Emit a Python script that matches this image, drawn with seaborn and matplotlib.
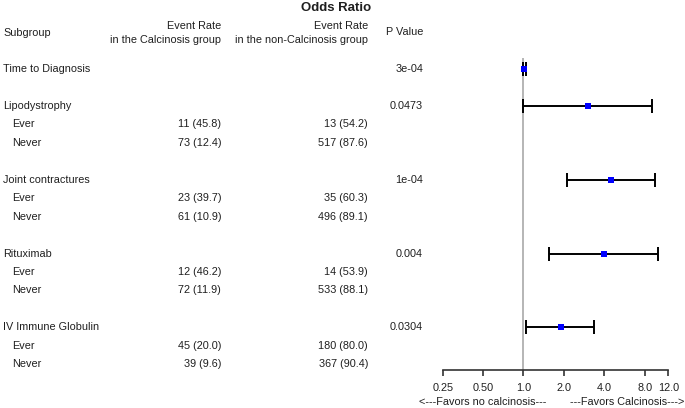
import matplotlib
matplotlib.use("Agg")
import matplotlib.pyplot as plt
import matplotlib.transforms as mtransforms
import numpy as np
import pandas as pd
import seaborn as sns

# forest plot data
groups = ["Time to Diagnosis", "Lipodystrophy", "Joint contractures", "Rituximab", "IV Immune Globulin"]
p_values = ["3e-04", "0.0473", "1e-04", "0.004", "0.0304"]
odds_ratio = [1.01, 3.05, 4.5, 3.95, 1.89]
ci_low = [1.0, 1.0, 2.11, 1.54, 1.05]
ci_high = [1.04, 9.1, 9.6, 10.1, 3.35]
levels = ["Ever", "Never"]
calc_ever = ["", "11 (45.8)", "23 (39.7)", "12 (46.2)", "45 (20.0)"]
calc_never = ["", "73 (12.4)", "61 (10.9)", "72 (11.9)", "39 (9.6)"]
noncalc_ever = ["", "13 (54.2)", "35 (60.3)", "14 (53.9)", "180 (80.0)"]
noncalc_never = ["", "517 (87.6)", "496 (89.1)", "533 (88.1)", "367 (90.4)"]
tick_values = [0.25, 0.5, 1.0, 2.0, 4.0, 8.0, 12.0]
tick_labels = ["0.25", "0.50", "1.0", "2.0", "4.0", "8.0", "12.0"]

W, H = 685, 408
FS = 7.8
TXT = "#1f1f1f"

sns.set_theme(style="white")
plt.rcParams["font.family"] = ["Liberation Sans", "DejaVu Sans"]

# row index of each group (Time to Diagnosis has no sub rows)
group_row = [0] + [2 + 4 * (i - 1) for i in range(1, len(groups))]

df = pd.DataFrame({"group": groups, "row": group_row, "OR": odds_ratio,
                   "lo": ci_low, "hi": ci_high, "p": p_values})

fig = plt.figure(figsize=(W / 100, H / 100), dpi=100)
ax_top, ax_bot = 58, 370
ax_left, ax_right = 442.7, 668.3
ax = fig.add_axes([ax_left / W, 1 - ax_bot / H, (ax_right - ax_left) / W, (ax_bot - ax_top) / H])

row_h = 18.45
ax.set_xscale("log")
ax.set_xlim(0.25, 12)
ax.set_ylim(16 + (ax_bot - 364.2) / row_h, -(69 - ax_top) / row_h)

# reference line at OR = 1
ax.axvline(1.0, color="#b0b0b0", lw=1.3, zorder=1)

# confidence intervals
ax.errorbar(df["OR"], df["row"], xerr=[df["OR"] - df["lo"], df["hi"] - df["OR"]],
            fmt="none", ecolor="black", elinewidth=1.4, capsize=5, capthick=1.4, zorder=2)
sns.scatterplot(data=df, x="OR", y="row", marker="s", color="blue", s=16,
                linewidth=0, ax=ax, zorder=3, legend=False)

ax.set_xticks(tick_values)
ax.set_xticklabels(tick_labels)
ax.xaxis.set_minor_locator(matplotlib.ticker.NullLocator())
ax.set_yticks([])
ax.set_xlabel("")
ax.set_ylabel("")
for s in ["top", "left", "right"]:
    ax.spines[s].set_visible(False)
ax.spines["bottom"].set_color("#333333")
ax.spines["bottom"].set_linewidth(1.2)
ax.tick_params(axis="x", bottom=True, direction="out", length=4.5, width=1.2,
               color="#333333", labelsize=FS, labelcolor=TXT, pad=5)

# text columns: x in figure pixels, y in data rows
tr = mtransforms.blended_transform_factory(fig.transFigure, ax.transData)
col_name, col_level, col_calc, col_non, col_p = 3, 12, 221, 368, 423

for i, g in enumerate(groups):
    r = group_row[i]
    fig.text(col_name / W, r, g, transform=tr, ha="left", va="center", fontsize=FS, color=TXT)
    fig.text(col_p / W, r, p_values[i], transform=tr, ha="right", va="center", fontsize=FS, color=TXT)
    if i == 0:
        continue
    for k, (lv, ce, ne) in enumerate(zip(levels, [calc_ever[i], calc_never[i]],
                                         [noncalc_ever[i], noncalc_never[i]])):
        rr = r + 1 + k
        fig.text(col_level / W, rr, lv, transform=tr, ha="left", va="center", fontsize=FS, color=TXT)
        fig.text(col_calc / W, rr, ce, transform=tr, ha="right", va="center", fontsize=FS, color=TXT)
        fig.text(col_non / W, rr, ne, transform=tr, ha="right", va="center", fontsize=FS, color=TXT)

# headers
fig.text(336 / W, 1 - 8 / H, "Odds Ratio", ha="center", va="center", fontsize=9.5,
         fontweight="bold", color=TXT)
fig.text(col_name / W, 1 - 33 / H, "Subgroup", ha="left", va="center", fontsize=FS, color=TXT)
fig.text(col_calc / W, 1 - 33 / H, "Event Rate\nin the Calcinosis group", ha="right",
         va="center", fontsize=FS, color=TXT, linespacing=1.6)
fig.text(col_non / W, 1 - 33 / H, "Event Rate\nin the non-Calcinosis group", ha="right",
         va="center", fontsize=FS, color=TXT, linespacing=1.6)
fig.text(col_p / W, 1 - 32 / H, "P Value", ha="right", va="center", fontsize=FS, color=TXT)

# direction labels under the axis
fig.text(483 / W, 1 - 402 / H, "<---Favors no calcinosis---", ha="center", va="center",
         fontsize=FS, color=TXT)
fig.text(684 / W, 1 - 402 / H, "---Favors Calcinosis--->", ha="right", va="center",
         fontsize=FS, color=TXT)

fig.savefig("out.png", dpi=100)
